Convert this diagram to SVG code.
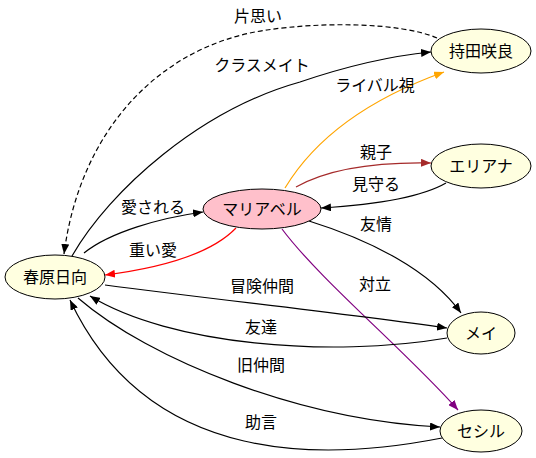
<svg xmlns="http://www.w3.org/2000/svg" width="536" height="458" viewBox="0 0 536 458">
<style>
.n{fill:#FFFFE0;stroke:#000;stroke-width:1}
.m{fill:#FFC0CB;stroke:#000;stroke-width:1}
.t{font-family:"Noto Sans CJK JP","Noto Sans",sans-serif;font-size:16px;fill:#000;text-anchor:middle}
.e{fill:none;stroke:#000;stroke-width:1.2}
</style>
<defs>
<marker id="ab" markerUnits="userSpaceOnUse" markerWidth="11" markerHeight="8" refX="10" refY="4" orient="auto"><path d="M0,0 L10,4 L0,8 z" fill="#000"/></marker>
<marker id="ao" markerUnits="userSpaceOnUse" markerWidth="11" markerHeight="8" refX="10" refY="4" orient="auto"><path d="M0,0 L10,4 L0,8 z" fill="#FFA500"/></marker>
<marker id="abr" markerUnits="userSpaceOnUse" markerWidth="11" markerHeight="8" refX="10" refY="4" orient="auto"><path d="M0,0 L10,4 L0,8 z" fill="#A52A2A"/></marker>
<marker id="ar" markerUnits="userSpaceOnUse" markerWidth="11" markerHeight="8" refX="10" refY="4" orient="auto"><path d="M0,0 L10,4 L0,8 z" fill="#FF0000"/></marker>
<marker id="ap" markerUnits="userSpaceOnUse" markerWidth="11" markerHeight="8" refX="10" refY="4" orient="auto"><path d="M0,0 L10,4 L0,8 z" fill="#800080"/></marker>
</defs>
<rect width="536" height="458" fill="#fff"/>
<g id="edges">
<path class="e" d="M437,38 C400,22 320,22 267,30 C160,45 80,130 64,254" stroke-dasharray="5,3" marker-end="url(#ab)"/>
<text class="t" x="258" y="22">片思い</text>
<path class="e" d="M72,256 C110,190 200,110 300,82 C350,65 390,56 431,52" marker-end="url(#ab)"/>
<text class="t" x="262" y="71">クラスメイト</text>
<path class="e" d="M285,188 C320,130 380,95 444,72" style="stroke:#FFA500" marker-end="url(#ao)"/>
<text class="t" x="375" y="91">ライバル視</text>
<path class="e" d="M296,187 C330,168 380,162 431,163" style="stroke:#A52A2A" marker-end="url(#abr)"/>
<text class="t" x="376" y="158">親子</text>
<path class="e" d="M446,183 C420,198 370,205 321,208" marker-end="url(#ab)"/>
<text class="t" x="376" y="190">見守る</text>
<path class="e" d="M309,221 C370,240 430,270 461,313" marker-end="url(#ab)"/>
<text class="t" x="376" y="230">友情</text>
<path class="e" d="M282,229 C320,280 410,355 458,410" style="stroke:#800080" marker-end="url(#ap)"/>
<text class="t" x="375" y="290">対立</text>
<path class="e" d="M84,253 C110,232 160,218 203,212" marker-end="url(#ab)"/>
<text class="t" x="153" y="213">愛される</text>
<path class="e" d="M236,228 C210,255 160,268 105,275" style="stroke:#FF0000" marker-end="url(#ar)"/>
<text class="t" x="153" y="256">重い愛</text>
<path class="e" d="M105,285 C220,300 340,313 447,328" marker-end="url(#ab)"/>
<text class="t" x="262" y="292">冒険仲間</text>
<path class="e" d="M447,338 C330,358 170,345 90,296" marker-end="url(#ab)"/>
<text class="t" x="261" y="333">友達</text>
<path class="e" d="M78,298 C150,360 300,420 440,427" marker-end="url(#ab)"/>
<text class="t" x="261" y="371">旧仲間</text>
<path class="e" d="M442,438 C330,460 150,470 70,300" marker-end="url(#ab)"/>
<text class="t" x="261" y="428">助言</text>
</g>
<g id="haruhara"><ellipse class="n" cx="55" cy="277" rx="50" ry="22"/><text class="t" x="55" y="283">春原日向</text></g>
<g id="mariabel"><ellipse class="m" cx="262" cy="209" rx="59" ry="20"/><text class="t" x="262" y="215">マリアベル</text></g>
<g id="mochida"><ellipse class="n" cx="481" cy="51" rx="50" ry="22"/><text class="t" x="481" y="57">持田咲良</text></g>
<g id="eriana"><ellipse class="n" cx="481" cy="166" rx="50" ry="22"/><text class="t" x="481" y="172">エリアナ</text></g>
<g id="mei"><ellipse class="n" cx="481" cy="333" rx="34" ry="21"/><text class="t" x="481" y="339">メイ</text></g>
<g id="cecil"><ellipse class="n" cx="481" cy="431" rx="41" ry="21"/><text class="t" x="481" y="437">セシル</text></g>
</svg>
